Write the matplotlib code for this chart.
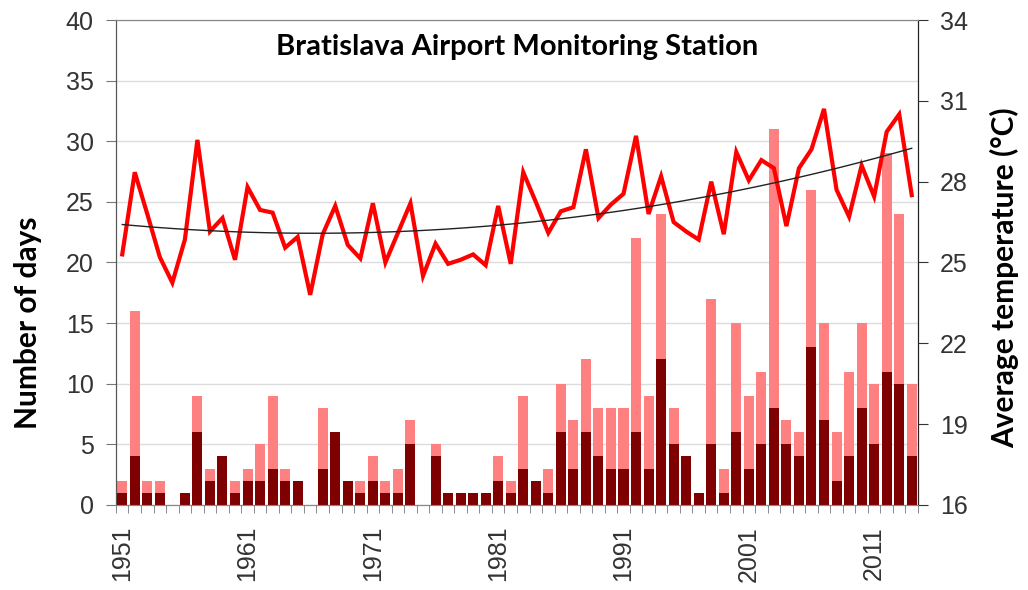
import numpy as np
import matplotlib.pyplot as plt

# data
years = np.arange(1951, 2015)

days_all = [2, 16, 2, 2, 0, 1, 9, 3, 4, 2,
            3, 5, 9, 3, 2, 0, 8, 6, 2, 2,
            4, 2, 3, 7, 0, 5, 1, 1, 1, 1,
            4, 2, 9, 2, 3, 10, 7, 12, 8, 8,
            8, 22, 9, 24, 8, 4, 1, 17, 3, 15,
            9, 11, 31, 7, 6, 26, 15, 6, 11, 15,
            10, 29, 24, 10]

days_hot = [1, 4, 1, 1, 0, 1, 6, 2, 4, 1,
            2, 2, 3, 2, 2, 0, 3, 6, 2, 1,
            2, 1, 1, 5, 0, 4, 1, 1, 1, 1,
            2, 1, 3, 2, 1, 6, 3, 6, 4, 3,
            3, 6, 3, 12, 5, 4, 1, 5, 1, 6,
            3, 5, 8, 5, 4, 13, 7, 2, 4, 8,
            5, 11, 10, 4]

temp = [25.3, 28.35, 26.8, 25.2, 24.25, 25.85, 29.55, 26.15, 26.65, 25.1,
        27.8, 26.95, 26.85, 25.55, 25.95, 23.8, 26.05, 27.1, 25.65, 25.15,
        27.2, 25.0, 26.1, 27.2, 24.5, 25.7, 24.95, 25.1, 25.3, 24.9,
        27.1, 24.95, 28.35, 27.25, 26.1, 26.9, 27.05, 29.2, 26.65, 27.15,
        27.55, 29.7, 26.8, 28.2, 26.5, 26.15, 25.85, 28.0, 26.05, 29.1,
        28.05, 28.8, 28.5, 26.35, 28.5, 29.2, 30.7, 27.7, 26.7, 28.6,
        27.45, 29.85, 30.5, 27.5]

tick_years = [1951, 1961, 1971, 1981, 1991, 2001, 2011]

trend = np.polyval(np.polyfit(years, temp, 2), years)

plt.rcParams['font.family'] = ['Liberation Sans', 'DejaVu Sans']
bold_font = ['Lato', 'DejaVu Sans']

fig = plt.figure(figsize=(10.28, 5.9), dpi=100)
ax = fig.add_axes([0.1128, 0.1441, 0.7802, 0.8220])
ax2 = ax.twinx()

ax.bar(years, days_all, width=0.8, color='#ff8080', zorder=2)
ax.bar(years, days_hot, width=0.8, color='#7f0000', zorder=3)

ax.set_xlim(1950.5, 2014.5)
ax.set_ylim(0, 40)
ax.set_yticks(range(0, 41, 5))
ax.grid(axis='y', color='#dcdcdc', lw=1, zorder=0)
ax.set_axisbelow(True)

ax.set_xticks(tick_years)
ax.set_xticklabels([str(y) for y in tick_years], rotation=90)
ax.set_xticks(np.arange(1950.5, 2015, 1), minor=True)
ax.tick_params(axis='x', which='major', length=0, pad=15, labelsize=18, labelcolor='#333333')
ax.tick_params(axis='x', which='minor', length=6, color='#777777')
ax.tick_params(axis='y', length=7, color='#777777', pad=9, labelsize=18, labelcolor='#333333')

ax2.plot(years, temp, color='#ff0000', lw=3, zorder=4, solid_joinstyle='miter')
ax2.plot(years, trend, color='#222222', lw=1, zorder=5)
ax2.set_ylim(16, 34)
ax2.set_yticks(range(16, 35, 3))
ax2.tick_params(axis='y', length=7, color='#333333', pad=9, labelsize=18, labelcolor='#333333')

for a in (ax, ax2):
    a.spines['left'].set_color('#555555')
    a.spines['top'].set_color('#888888')
    a.spines['bottom'].set_color('#888888')
    a.spines['right'].set_color('#222222')

# axis titles placed in figure coords
fig.text(0.0268, 0.4525, 'Number of days', rotation=90, ha='center', va='center',
         family=bold_font, fontweight='bold', fontsize=21.5)
fig.text(0.9776, 0.5288, 'Average temperature (°C)', rotation=90, ha='center', va='center',
         family=bold_font, fontweight='bold', fontsize=21.5)

ax.text(0.5, 0.944, 'Bratislava Airport Monitoring Station', transform=ax.transAxes,
        ha='center', va='center', family=bold_font, fontweight='bold',
        fontsize=21, zorder=6)

fig.savefig('out.png', dpi=100)
